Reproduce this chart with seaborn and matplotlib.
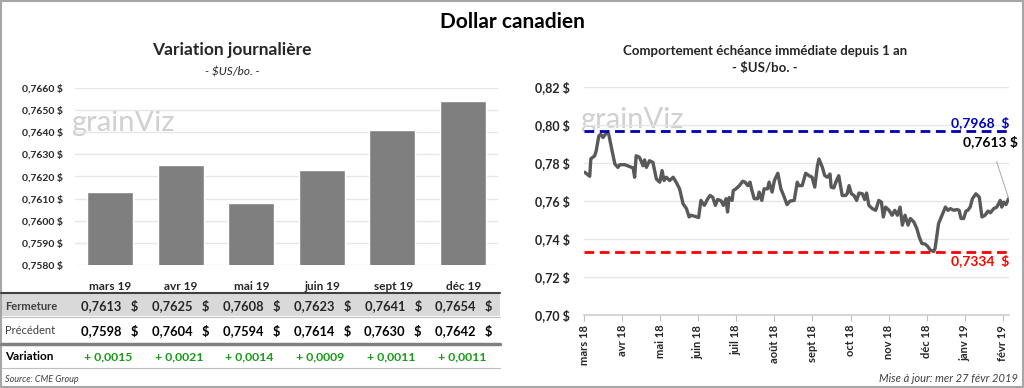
import numpy as np
import pandas as pd
import matplotlib
matplotlib.use("Agg")
import matplotlib.pyplot as plt
from matplotlib.lines import Line2D
from matplotlib.patches import Rectangle
import seaborn as sns

# ---------------- data ----------------
contracts = ["mars 19", "avr 19", "mai 19", "juin 19", "sept 19", "déc 19"]
fermeture = [0.7613, 0.7625, 0.7608, 0.7623, 0.7641, 0.7654]
precedent = [0.7598, 0.7604, 0.7594, 0.7614, 0.7630, 0.7642]
variation = [0.0015, 0.0021, 0.0014, 0.0009, 0.0011, 0.0011]

bar_yticks = [0.7580, 0.7590, 0.7600, 0.7610, 0.7620, 0.7630, 0.7640, 0.7650, 0.7660]

month_labels = ["mars 18", "avr 18", "mai 18", "juin 18", "juil 18", "août 18",
                "sept 18", "oct 18", "nov 18", "déc 18", "janv 19", "févr 19"]
# time in months since 1 March 2018
t_months = [0.02, 0.15, 0.18, 0.28, 0.32, 0.39, 0.44, 0.50, 0.59, 0.65, 0.72, 0.81,
            0.89, 0.94, 1.07, 1.20, 1.29, 1.33, 1.37, 1.46, 1.55, 1.59, 1.64, 1.72,
            1.81, 1.90, 1.99, 2.05, 2.10, 2.16, 2.25, 2.34, 2.42, 2.51, 2.60, 2.69,
            2.76, 2.81, 2.90, 3.01, 3.07, 3.16, 3.25, 3.31, 3.38, 3.45, 3.51, 3.60,
            3.66, 3.73, 3.77, 3.81, 3.89, 3.92, 3.99, 4.08, 4.17, 4.23, 4.30, 4.36,
            4.41, 4.47, 4.56, 4.60, 4.67, 4.73, 4.82, 4.86, 4.94, 5.00, 5.09, 5.17,
            5.26, 5.33, 5.41, 5.52, 5.60, 5.64, 5.73, 5.82, 5.91, 5.99, 6.06, 6.13,
            6.17, 6.26, 6.32, 6.39, 6.46, 6.49, 6.56, 6.63, 6.69, 6.78, 6.87, 6.91,
            6.96, 7.02, 7.09, 7.16, 7.22, 7.31, 7.37, 7.42, 7.48, 7.57, 7.66, 7.74,
            7.81, 7.86, 7.92, 8.01, 8.09, 8.16, 8.23, 8.30, 8.36, 8.43, 8.51, 8.57,
            8.66, 8.74, 8.80, 8.87, 8.96, 9.03, 9.09, 9.18, 9.22, 9.31, 9.40, 9.49,
            9.56, 9.62, 9.71, 9.79, 9.85, 9.90, 9.97, 10.03, 10.08, 10.14, 10.20,
            10.29, 10.38, 10.45, 10.53, 10.61, 10.67, 10.76, 10.84, 10.93, 10.97,
            11.02, 11.08, 11.15]
cad_values = [0.7751, 0.7730, 0.7822, 0.7838, 0.7864, 0.7943, 0.7951, 0.7934, 0.7960,
              0.7951, 0.7881, 0.7795, 0.7777, 0.7791, 0.7791, 0.7781, 0.7774, 0.7725,
              0.7838, 0.7829, 0.7786, 0.7816, 0.7777, 0.7812, 0.7803, 0.7716, 0.7699,
              0.7760, 0.7708, 0.7725, 0.7708, 0.7725, 0.7699, 0.7664, 0.7586, 0.7560,
              0.7516, 0.7525, 0.7520, 0.7513, 0.7603, 0.7577, 0.7612, 0.7629, 0.7620,
              0.7577, 0.7608, 0.7601, 0.7577, 0.7612, 0.7542, 0.7618, 0.7603, 0.7655,
              0.7664, 0.7681, 0.7704, 0.7699, 0.7681, 0.7699, 0.7655, 0.7612, 0.7612,
              0.7647, 0.7603, 0.7664, 0.7664, 0.7699, 0.7647, 0.7708, 0.7746, 0.7664,
              0.7620, 0.7581, 0.7600, 0.7603, 0.7699, 0.7681, 0.7681, 0.7746, 0.7733,
              0.7725, 0.7673, 0.7786, 0.7821, 0.7777, 0.7734, 0.7725, 0.7742, 0.7673,
              0.7669, 0.7708, 0.7733, 0.7629, 0.7629, 0.7638, 0.7681, 0.7638, 0.7629,
              0.7603, 0.7642, 0.7638, 0.7608, 0.7642, 0.7577, 0.7560, 0.7551, 0.7603,
              0.7594, 0.7516, 0.7568, 0.7551, 0.7525, 0.7551, 0.7525, 0.7568, 0.7473,
              0.7525, 0.7473, 0.7508, 0.7490, 0.7455, 0.7412, 0.7377, 0.7373, 0.7360,
              0.7342, 0.7334, 0.7351, 0.7481, 0.7525, 0.7568, 0.7551, 0.7560, 0.7551,
              0.7555, 0.7551, 0.7508, 0.7508, 0.7547, 0.7551, 0.7568, 0.7612, 0.7638,
              0.7620, 0.7516, 0.7525, 0.7547, 0.7538, 0.7560, 0.7568, 0.7603, 0.7568,
              0.7594, 0.7581, 0.7613]
max_1y = 0.7968
min_1y = 0.7334
last_close = 0.7613
line_yticks = [0.70, 0.72, 0.74, 0.76, 0.78, 0.80, 0.82]

# ---------------- style ----------------
sns.set_theme(style="white")
plt.rcParams['font.family'] = ['Lato', 'DejaVu Sans']

W, H = 1024, 388
fig = plt.figure(figsize=(W / 100, H / 100), dpi=100)


def fx(px):
    return px / W


def fy(py):
    return 1 - py / H


def fmt(v, nd=4):
    return f"{v:.{nd}f}".replace(".", ",")


# outer border
fig.add_artist(Rectangle((0.001, 0.002), 0.998, 0.996, transform=fig.transFigure,
                         fill=False, edgecolor="#a6a6a6", lw=1.5))

fig.text(fx(512), fy(22), "Dollar canadien", ha="center", va="center",
         fontsize=15, fontweight="bold", color="black")

# ---------------- left bar chart ----------------
axL = fig.add_axes([fx(75), fy(265), fx(498 - 75), (265 - 88) / H])
df_bar = pd.DataFrame({"contrat": contracts, "fermeture": fermeture})
sns.barplot(data=df_bar, x="contrat", y="fermeture", color="#7f7f7f",
            saturation=1, width=0.65, ax=axL)
axL.set_ylim(bar_yticks[0], bar_yticks[-1])
axL.set_xlim(-0.5, len(contracts) - 0.5)
axL.set_yticks(bar_yticks)
axL.set_yticklabels([fmt(v) + " $" for v in bar_yticks], fontsize=7.5,
                    fontweight="bold", color="#262626")
axL.set_xticks(range(len(contracts)))
axL.set_xticklabels([])
axL.tick_params(axis="both", length=0, pad=9)
axL.set_xlabel("")
axL.set_ylabel("")
axL.grid(axis="y", color="#e6e6e6", lw=1)
axL.set_axisbelow(True)
for s in axL.spines.values():
    s.set_visible(False)
axL.text(-0.008, 0.80, "grainViz", transform=axL.transAxes, fontsize=21,
         color="#d0d0d0", ha="left", va="center", zorder=0)

fig.text(fx(232), fy(50), "Variation journalière", ha="center", va="center",
         fontsize=12.5, fontweight="bold")
fig.text(fx(232), fy(72), "- $US/bo. -", ha="center", va="center",
         fontsize=8.5, style="italic")

# ---------------- table ----------------
col_x = [110 + 70.8 * i for i in range(len(contracts))]
fig.add_artist(Rectangle((fx(1), fy(316)), fx(499), (316 - 293) / H,
                         transform=fig.transFigure, facecolor="#d9d9d9",
                         edgecolor="none", zorder=0))
for c, xx in zip(contracts, col_x):
    fig.text(fx(xx), fy(287), c, ha="center", va="center", fontsize=8.5,
             fontweight="bold")
fig.add_artist(Line2D([fx(1), fx(500)], [fy(293), fy(293)], color="#404040", lw=1.5))
fig.add_artist(Line2D([fx(1), fx(500)], [fy(317), fy(317)], color="#bfbfbf", lw=0.8))
fig.add_artist(Line2D([fx(1), fx(500)], [fy(344), fy(344)], color="#808080", lw=2.5))
fig.add_artist(Line2D([fx(1), fx(500)], [fy(368), fy(368)], color="#bfbfbf", lw=0.8))

fig.text(fx(5), fy(306), "Fermeture", ha="left", va="center", fontsize=8,
         fontweight="bold", color="#404040")
fig.text(fx(5), fy(331), "Précédent", ha="left", va="center", fontsize=8,
         color="#404040")
fig.text(fx(5), fy(357), "Variation", ha="left", va="center", fontsize=8.5,
         fontweight="bold", color="black")
for xx, f, p, v in zip(col_x, fermeture, precedent, variation):
    fig.text(fx(xx), fy(306), fmt(f) + "   $", ha="center", va="center",
             fontsize=9.3, fontweight="bold", color="#262626")
    fig.text(fx(xx), fy(331), fmt(p) + "   $", ha="center", va="center",
             fontsize=9.3, fontweight="bold", color="black")
    sign = "+ " if v >= 0 else "- "
    fig.text(fx(xx - 2), fy(357), sign + fmt(abs(v)), ha="center", va="center",
             fontsize=8.8, fontweight="bold", color="#1a9a1a")
fig.text(fx(5), fy(379), "Source: CME Group", ha="left", va="center",
         fontsize=6.5, style="italic", color="#404040")

# ---------------- right line chart ----------------
axR = fig.add_axes([fx(584), fy(315), fx(1009 - 584), (315 - 87) / H])
df_line = pd.DataFrame({"t": t_months, "cad": cad_values})
sns.lineplot(data=df_line, x="t", y="cad", color="#595959", lw=2.4, ax=axR)
axR.set_xlim(0, 11.16)
axR.set_ylim(line_yticks[0], line_yticks[-1])
axR.set_yticks(line_yticks)
axR.set_yticklabels([fmt(v, 2) + " $" for v in line_yticks], fontsize=9,
                    fontweight="bold", color="#262626")
axR.set_xticks(range(len(month_labels)))
axR.set_xticklabels(month_labels, rotation=90, fontsize=8, fontweight="bold",
                    color="#262626")
axR.tick_params(axis="y", length=0, pad=10)
axR.tick_params(axis="x", length=4, width=0.8, color="#bfbfbf", direction="out",
                pad=3, bottom=True)
axR.set_xlabel("")
axR.set_ylabel("")
axR.grid(axis="y", color="#e6e6e6", lw=1)
axR.set_axisbelow(True)
for s in ["top", "right", "left"]:
    axR.spines[s].set_visible(False)
axR.spines["bottom"].set_color("#d0d0d0")
axR.text(-0.01, 0.855, "grainViz", transform=axR.transAxes, fontsize=21,
         color="#d0d0d0", ha="left", va="center", zorder=0)

axR.axhline(max_1y, color="#0000b4", lw=2, ls=(0, (3.5, 2)))
axR.axhline(min_1y, color="#ff0000", lw=2, ls=(0, (3.5, 2)))
axR.text(1.0, max_1y + 0.0012, fmt(max_1y) + "  $", transform=axR.get_yaxis_transform(),
         ha="right", va="bottom", fontsize=10, fontweight="bold", color="#0000c0")
axR.text(1.0, min_1y - 0.0015, fmt(min_1y) + "  $", transform=axR.get_yaxis_transform(),
         ha="right", va="top", fontsize=10, fontweight="bold", color="#ff0000")
axR.annotate(fmt(last_close) + " $", xy=(t_months[-1], cad_values[-1]),
             xytext=(11.38, 0.7915), textcoords="data", ha="right", va="center",
             fontsize=10, fontweight="bold", color="black", annotation_clip=False,
             arrowprops=dict(arrowstyle="-", color="#a6a6a6", lw=0.7,
                             shrinkA=8, shrinkB=0))

fig.text(fx(765), fy(51), "Comportement échéance immédiate depuis 1 an",
         ha="center", va="center", fontsize=9.5, fontweight="bold")
fig.text(fx(765), fy(68), "- $US/bo. -", ha="center", va="center",
         fontsize=9.5, fontweight="bold")
fig.text(fx(1018), fy(378), "Mise à jour: mer 27 févr 2019", ha="right",
         va="center", fontsize=8, style="italic", color="#404040")

fig.savefig("out.png", dpi=100)
